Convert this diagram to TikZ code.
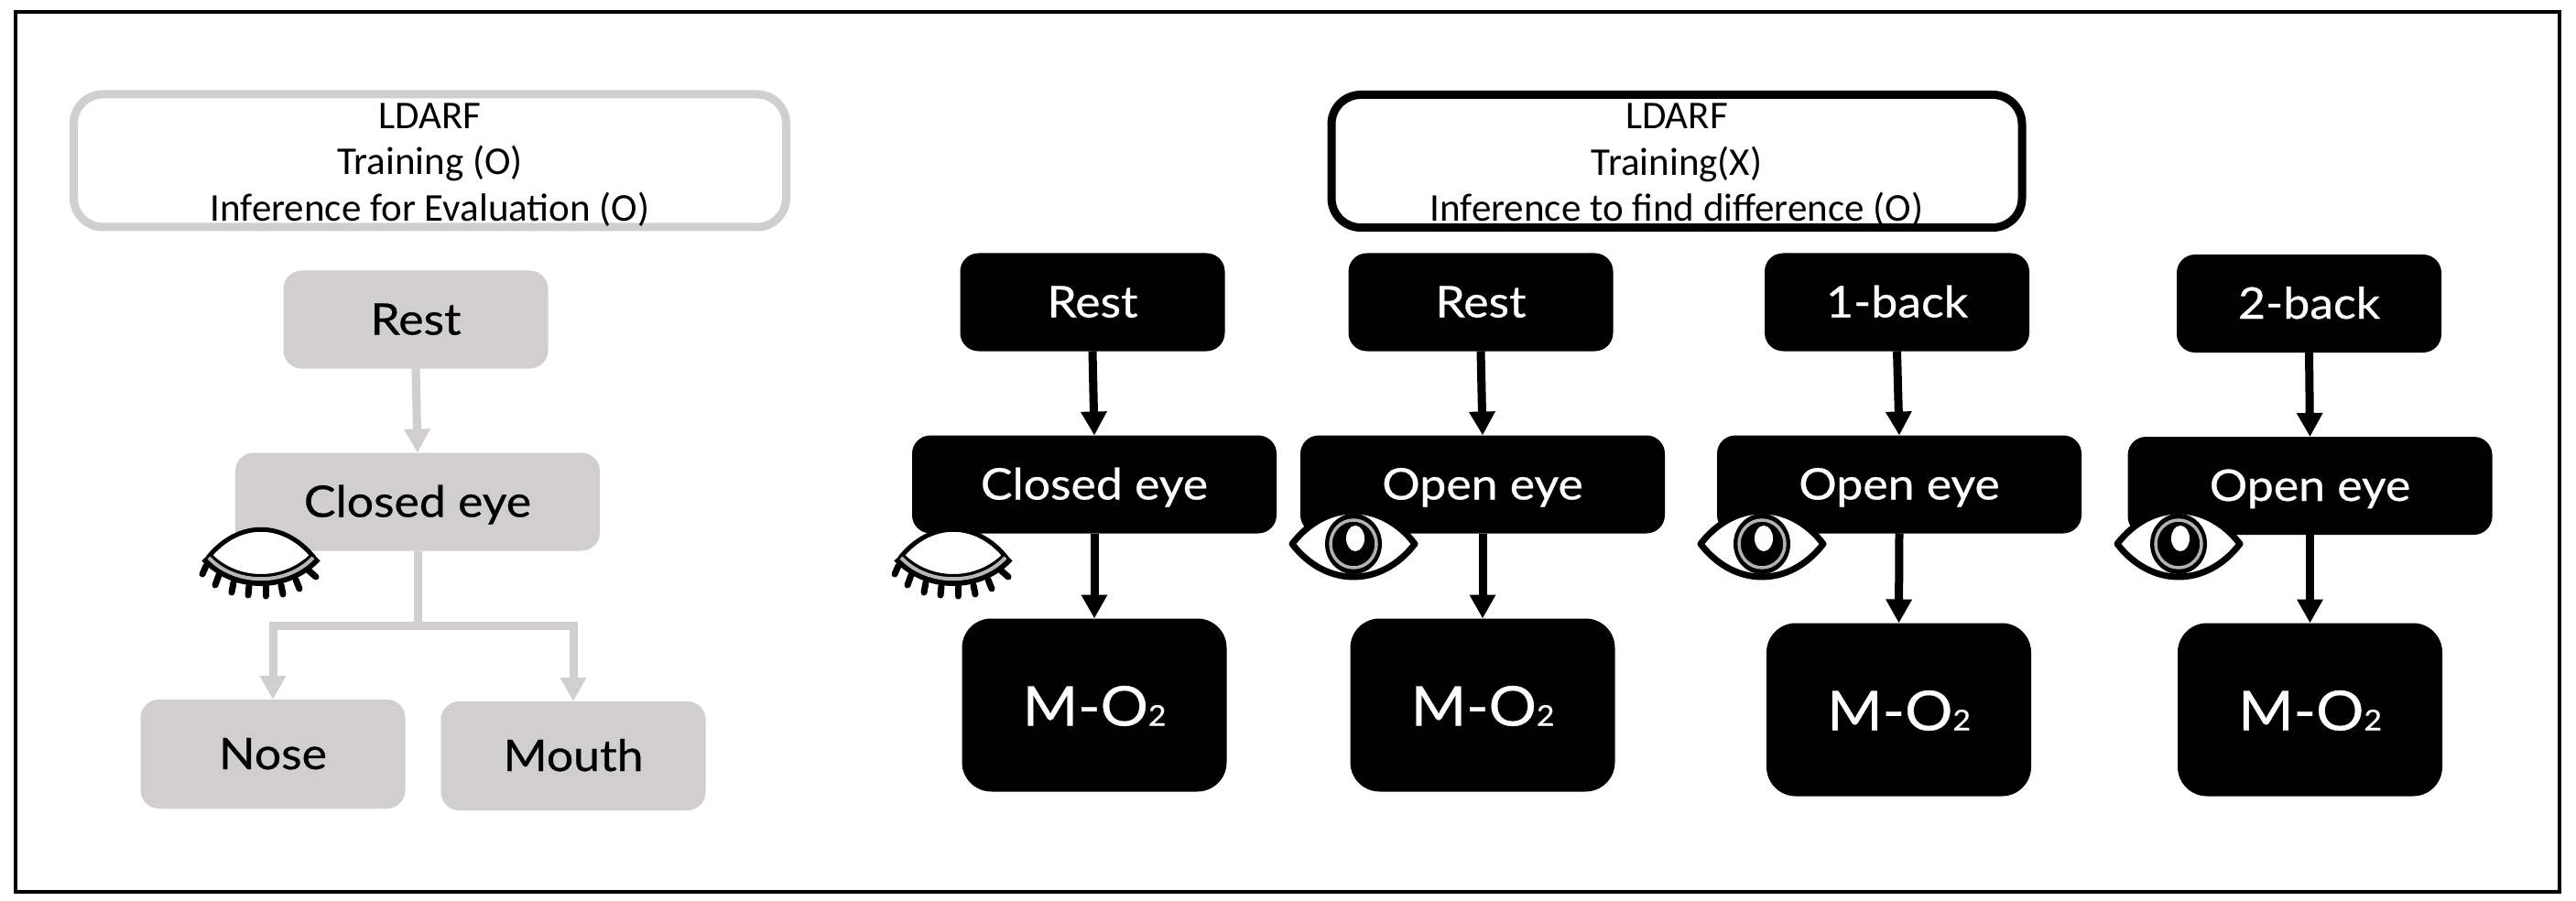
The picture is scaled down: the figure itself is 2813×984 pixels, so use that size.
\documentclass[tikz,border=0pt]{standalone}
\usepackage{fontspec}
\setmainfont{Lato}[FakeStretch=1.09,FakeBold=0.6]
\newfontfamily\topfont{Carlito}
\usetikzlibrary{arrows.meta}
\definecolor{gr}{HTML}{D0CECE}
\newcommand{\subtwo}{{\fontsize{31}{31}\selectfont 2}}
\tikzset{
  x=1pt,y=-1pt,
  smallbox/.style={rounded corners=20pt,inner sep=0pt,outer sep=0pt,minimum width=289pt,minimum height=107pt,
     font=\fontsize{47.5}{50}\selectfont,text height=33pt,text depth=0pt},
  widebox/.style={smallbox,minimum width=398pt},
  bigbox/.style={smallbox,rounded corners=32pt,minimum height=189pt,font=\fontsize{60}{70}\selectfont,text height=45pt},
  gfill/.style={fill=gr,text=black},
  kfill/.style={fill=black,text=white},
  headbox/.style={rounded corners=32pt,line width=9pt,inner sep=0pt,outer sep=4.5pt,minimum height=145pt,align=center,
     font=\topfont\fontsize{43}{50.5}\selectfont},
  arr/.style={line width=9pt,-{Triangle[length=26pt,width=27pt]}},
  plainline/.style={line width=9pt},
  closedeye/.pic={
    \fill[white] (-56,-3) .. controls (-25,-44) and (25,-44) .. (56,-3) .. controls (25,24) and (-25,24) .. cycle;
    \draw[line width=5pt,line join=round] (-58,-3) .. controls (-25,-44) and (25,-44) .. (58,-3);
    \foreach \a/\b/\c/\d in {-60/6/-64/15,-46/16/-50/27,-30/24/-32/35,-13/28/-14/38,5/29/5/39,22/27/24/37,38/21/42/31,52/11/60/18}
      \draw[line width=7pt,line cap=round] (\a,\b) -- (\c,\d);
    \draw[line width=13pt] (-60,-4) .. controls (-28,30) and (28,30) .. (60,-4);
    \draw[gr!70!gray,line width=4pt] (-57,-3) .. controls (-28,28) and (28,28) .. (57,-3);
  },
  openeye/.pic={
    \draw[fill=white,line width=7pt,line join=round] (-67,0) .. controls (-30,-48) and (30,-48) .. (67,0) .. controls (30,48) and (-30,48) .. cycle;
    \fill (0,0) ellipse [x radius=31pt,y radius=33pt];
    \draw[gray!60,line width=3.5pt] (0,0) ellipse [x radius=25pt,y radius=26pt];
    \fill[white] (2,-6) ellipse [x radius=10pt,y radius=14pt];
  }
}
\begin{document}
\begin{tikzpicture}
\useasboundingbox (0,0) rectangle (2813,984);
\fill[white] (0,0) rectangle (2813,984);
\draw[line width=4pt] (17,13) rectangle (2795,974);

% left panel
\node[headbox,draw=gr,minimum width=778pt] (lhead) at (469.5,175.5) {\rule{0pt}{36pt}LDARF\\Training (O)\\Inference for Evaluation (O)};
\node[smallbox,gfill] (lrest) at (454,349) {Rest};
\node[widebox,gfill] (lclosed) at (456,548) {Closed eye};
\node[smallbox,gfill,minimum height=119pt] (nose) at (298,823.5) {Nose};
\node[smallbox,gfill,minimum height=119pt] (mouth) at (626,825.5) {Mouth};
\coordinate (branch) at (456,683);
\draw[arr,gr] (lrest.south) -- (lclosed.north);
\draw[plainline,gr] (lclosed.south) -- (branch);
\draw[arr,gr] (branch) -| (nose.north);
\draw[arr,gr] (branch) -| (mouth.north);
\pic at (285,612) {closedeye};

% right panel
\node[headbox,draw=black,minimum width=754pt] (rhead) at (1831,176) {\rule{0pt}{36pt}LDARF\\Training(X)\\Inference to find difference (O)};

\node[smallbox,kfill] (r1) at (1193,330) {Rest};
\node[widebox,kfill] (c1) at (1195,529) {Closed eye};
\node[bigbox,kfill] (m1) at (1195,770) {M-O\subtwo};

\node[smallbox,kfill] (r2) at (1617,330) {Rest};
\node[widebox,kfill] (c2) at (1619,529) {Open eye};
\node[bigbox,kfill] (m2) at (1619,770) {M-O\subtwo};

\node[smallbox,kfill] (r3) at (2071.5,330) {1-back};
\node[widebox,kfill] (c3) at (2074,529) {Open eye};
\node[bigbox,kfill] (m3) at (2073.5,775) {M-O\subtwo};

\node[smallbox,kfill] (r4) at (2521.5,331.5) {2-back};
\node[widebox,kfill] (c4) at (2522.5,530.5) {Open eye};
\node[bigbox,kfill] (m4) at (2522.5,775) {M-O\subtwo};

\foreach \i in {1,2,3,4}{
  \draw[arr,black] (r\i.south) -- (c\i.north);
  \draw[arr,black] (c\i.south) -- (m\i.north);
}
\pic at (1041,612) {closedeye};
\pic at (1478,594) {openeye};
\pic at (1924,594) {openeye};
\pic at (2379,594) {openeye};
\end{tikzpicture}
\end{document}
